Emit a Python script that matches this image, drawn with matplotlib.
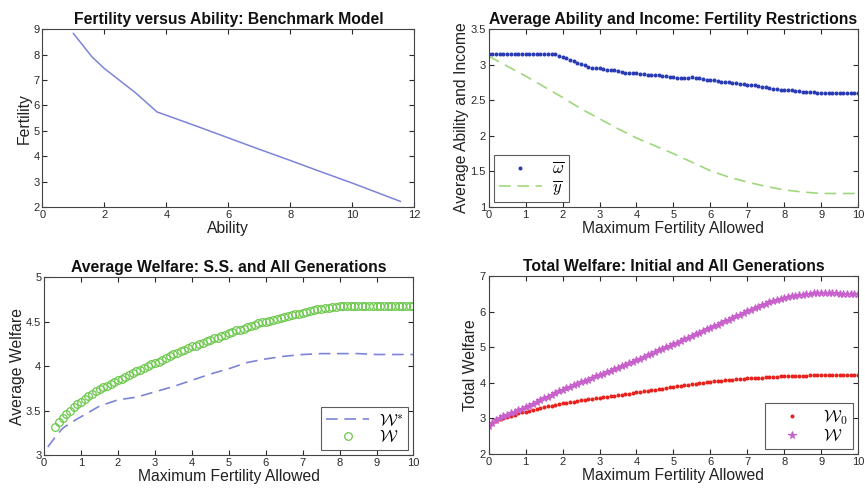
import numpy as np
import matplotlib.pyplot as plt
from matplotlib.ticker import FormatStrFormatter

plt.rcParams['font.family'] = ['Liberation Sans', 'DejaVu Sans']
plt.rcParams['mathtext.fontset'] = 'cm'

# --- panel 1: fertility vs ability (benchmark) ---
ability = [1.0, 1.6, 2.0, 3.0, 3.7, 4.0, 5.0, 6.0, 7.0, 8.0, 9.0, 10.0, 11.55]
fertility = [8.83, 7.91, 7.45, 6.50, 5.74, 5.61, 5.17, 4.72, 4.27, 3.83, 3.38, 2.94, 2.22]

# x grid of fertility caps (0, 0.1, ..., 10)
max_fert = np.round(np.arange(0, 101) * 0.1, 1)

# --- panel 2: average ability (dots) and income (dashed) ---
avg_ability = [
    3.15, 3.15, 3.15, 3.15, 3.15, 3.15, 3.15, 3.15, 3.15, 3.15,
    3.15, 3.15, 3.15, 3.15, 3.15, 3.15, 3.15, 3.15, 3.15, 3.12,
    3.11, 3.09, 3.07, 3.05, 3.03, 3.01, 2.99, 2.97, 2.96, 2.96,
    2.95, 2.94, 2.93, 2.92, 2.92, 2.91, 2.90, 2.89, 2.88, 2.88,
    2.88, 2.87, 2.87, 2.86, 2.86, 2.85, 2.85, 2.84, 2.84, 2.83,
    2.83, 2.82, 2.82, 2.81, 2.82, 2.83, 2.82, 2.81, 2.80, 2.79,
    2.78, 2.78, 2.77, 2.76, 2.76, 2.75, 2.74, 2.74, 2.73, 2.73,
    2.72, 2.72, 2.71, 2.70, 2.69, 2.68, 2.67, 2.66, 2.66, 2.65,
    2.65, 2.64, 2.64, 2.63, 2.63, 2.62, 2.62, 2.61, 2.61, 2.60,
    2.60, 2.60, 2.60, 2.60, 2.60, 2.60, 2.60, 2.60, 2.60, 2.60,
    2.60,
]
income_x = [0, 0.5, 1, 1.5, 2, 2.5, 3, 3.5, 4, 4.5, 5, 5.5, 6, 6.5, 7, 7.5, 8, 8.5, 9, 9.5, 10]
avg_income = [3.12, 2.98, 2.84, 2.69, 2.54, 2.38, 2.24, 2.10, 1.97, 1.86, 1.75,
              1.63, 1.51, 1.42, 1.35, 1.29, 1.24, 1.21, 1.19, 1.19, 1.19]

# --- panel 3: average welfare, steady state (dashed) and all generations (circles) ---
ss_x = [0.1, 0.3, 0.5, 0.75, 1, 1.5, 2, 2.5, 3, 3.5, 4, 4.5, 5, 5.5, 6, 6.5, 7, 7.5, 8, 8.5, 9, 9.5, 10]
ss_welfare = [3.09, 3.20, 3.30, 3.37, 3.43, 3.55, 3.62, 3.65, 3.71, 3.77, 3.84, 3.91,
              3.97, 4.04, 4.08, 4.11, 4.13, 4.14, 4.14, 4.14, 4.13, 4.13, 4.13]
allgen_avg = [
    3.32, 3.37, 3.42, 3.46, 3.50, 3.54, 3.57,
    3.60, 3.63, 3.66, 3.69, 3.72, 3.74, 3.76, 3.78, 3.80, 3.82,
    3.84, 3.86, 3.88, 3.90, 3.92, 3.94, 3.96, 3.98, 4.00, 4.02,
    4.03, 4.05, 4.07, 4.09, 4.11, 4.13, 4.15, 4.17, 4.18, 4.20,
    4.22, 4.23, 4.25, 4.26, 4.28, 4.29, 4.31, 4.32, 4.34, 4.35,
    4.37, 4.38, 4.40, 4.41, 4.42, 4.44, 4.45, 4.46, 4.48, 4.49,
    4.50, 4.51, 4.52, 4.53, 4.54, 4.55, 4.56, 4.57, 4.58, 4.59,
    4.60, 4.61, 4.62, 4.63, 4.64, 4.64, 4.65, 4.65, 4.66, 4.66,
    4.67, 4.67, 4.67, 4.68, 4.68, 4.68, 4.68, 4.68, 4.68, 4.68,
    4.68, 4.68, 4.68, 4.68, 4.68, 4.68, 4.68, 4.68, 4.68, 4.68,
    4.68,
]

# --- panel 4: total welfare, initial generation (dots) and all generations (stars) ---
initial_total = [
    2.80, 2.88, 2.94, 2.98, 3.02, 3.05, 3.08, 3.11, 3.14, 3.17,
    3.19, 3.22, 3.24, 3.27, 3.29, 3.31, 3.34, 3.36, 3.38, 3.40,
    3.42, 3.44, 3.46, 3.47, 3.49, 3.51, 3.52, 3.54, 3.55, 3.57,
    3.58, 3.60, 3.61, 3.63, 3.64, 3.66, 3.67, 3.69, 3.70, 3.72,
    3.73, 3.75, 3.76, 3.78, 3.79, 3.81, 3.82, 3.84, 3.85, 3.87,
    3.88, 3.90, 3.91, 3.93, 3.94, 3.96, 3.97, 3.99, 4.00, 4.01,
    4.03, 4.04, 4.05, 4.06, 4.07, 4.08, 4.09, 4.10, 4.11, 4.12,
    4.13, 4.14, 4.14, 4.15, 4.15, 4.16, 4.16, 4.17, 4.17, 4.18,
    4.18, 4.19, 4.19, 4.19, 4.20, 4.20, 4.20, 4.21, 4.21, 4.21,
    4.21, 4.21, 4.21, 4.21, 4.21, 4.21, 4.21, 4.21, 4.21, 4.21,
    4.21,
]
allgen_total = [
    2.78, 2.88, 2.96, 3.02, 3.07, 3.11, 3.15, 3.19, 3.23, 3.27,
    3.31, 3.36, 3.41, 3.46, 3.51, 3.56, 3.61, 3.66, 3.71, 3.76,
    3.81, 3.85, 3.89, 3.93, 3.97, 4.01, 4.05, 4.09, 4.13, 4.18,
    4.22, 4.26, 4.30, 4.34, 4.38, 4.42, 4.46, 4.50, 4.55, 4.59,
    4.64, 4.68, 4.73, 4.77, 4.82, 4.86, 4.91, 4.95, 5.00, 5.04,
    5.09, 5.13, 5.18, 5.22, 5.27, 5.31, 5.36, 5.40, 5.45, 5.50,
    5.55, 5.59, 5.64, 5.68, 5.73, 5.77, 5.82, 5.87, 5.92, 5.97,
    6.02, 6.06, 6.10, 6.14, 6.18, 6.22, 6.26, 6.29, 6.32, 6.35,
    6.38, 6.41, 6.43, 6.45, 6.47, 6.48, 6.50, 6.51, 6.52, 6.52,
    6.52, 6.52, 6.52, 6.52, 6.52, 6.51, 6.51, 6.51, 6.51, 6.51,
    6.50,
]

LIGHT_BLUE = "#7d84d8"
DARK_BLUE = "#2a3cb4"
LIGHT_GREEN = "#9fd87c"
GREEN = "#6cc84c"
RED = "#e8221c"
MAGENTA = "#c860cc"
INK = "#2a2a2a"

fig = plt.figure(figsize=(8.65, 4.94), dpi=100)
ax1 = fig.add_axes([0.049, 0.581, 0.430, 0.360])
ax2 = fig.add_axes([0.565, 0.581, 0.427, 0.360])
ax3 = fig.add_axes([0.051, 0.079, 0.427, 0.360])
ax4 = fig.add_axes([0.565, 0.081, 0.427, 0.360])

for ax in (ax1, ax2, ax3, ax4):
    ax.tick_params(direction="in", top=True, right=True, labelsize=8, length=3.5,
                   pad=2, colors=INK)
    ax.yaxis.set_major_formatter(FormatStrFormatter("%g"))
    for s in ax.spines.values():
        s.set_linewidth(0.8)
        s.set_color("#444444")

title_kw = dict(fontsize=11.3, fontweight="bold", pad=4, color="#111111")
label_kw = dict(fontsize=11.3, labelpad=1, color="#222222")
leg_kw = dict(fontsize=12, fancybox=False, edgecolor="#333333", handlelength=2.6,
              borderaxespad=0.3, labelspacing=0.1, borderpad=0.3, handletextpad=0.6)

# panel 1
ax1.plot(ability, fertility, color=LIGHT_BLUE, lw=1.1)
ax1.set_xlim(0, 12)
ax1.set_ylim(2, 9)
ax1.set_title("Fertility versus Ability: Benchmark Model", **title_kw)
ax1.set_xlabel("Ability", **label_kw)
ax1.set_ylabel("Fertility", **label_kw)

# panel 2
ax2.plot(max_fert, avg_ability, ".", color=DARK_BLUE, ms=3.8, label=r"$\overline{\omega}$")
ax2.plot(income_x, avg_income, "--", color=LIGHT_GREEN, lw=1.2, dashes=(7, 4),
         label=r"$\overline{y}$")
ax2.set_xlim(0, 10)
ax2.set_ylim(1, 3.5)
ax2.set_xticks(range(11))
ax2.set_yticks([1, 1.5, 2, 2.5, 3, 3.5])
ax2.set_title("Average Ability and Income: Fertility Restrictions", **title_kw)
ax2.set_xlabel("Maximum Fertility Allowed", **label_kw)
ax2.set_ylabel("Average Ability and Income", **label_kw)
leg = ax2.legend(loc="lower left", **leg_kw)
leg.get_frame().set_linewidth(0.8)

# panel 3
ax3.plot(ss_x, ss_welfare, "--", color=LIGHT_BLUE, lw=1.2, dashes=(7, 4),
         label=r"$\mathcal{W}^{*}$")
ax3.plot(max_fert[3:], allgen_avg, "o", color=GREEN, mfc="none", ms=5.5, mew=0.9,
         label=r"$\mathcal{W}$")
ax3.set_xlim(0, 10)
ax3.set_ylim(3, 5)
ax3.set_xticks(range(11))
ax3.set_yticks([3, 3.5, 4, 4.5, 5])
ax3.set_title("Average Welfare: S.S. and All Generations", **title_kw)
ax3.set_xlabel("Maximum Fertility Allowed", **label_kw)
ax3.set_ylabel("Average Welfare", **label_kw)
leg = ax3.legend(loc="lower right", **leg_kw)
leg.get_frame().set_linewidth(0.8)

# panel 4
ax4.plot(max_fert, initial_total, ".", color=RED, ms=3.8, label=r"$\mathcal{W}_0$")
ax4.plot(max_fert, allgen_total, "*", color=MAGENTA, ms=5.5, mew=0.8,
         label=r"$\mathcal{W}$")
ax4.set_xlim(0, 10)
ax4.set_ylim(2, 7)
ax4.set_xticks(range(11))
ax4.set_title("Total Welfare: Initial and All Generations", **title_kw)
ax4.set_xlabel("Maximum Fertility Allowed", **label_kw)
ax4.set_ylabel("Total Welfare", **label_kw)
leg = ax4.legend(loc="lower right", **leg_kw)
leg.get_frame().set_linewidth(0.8)

fig.savefig("out.png", dpi=100)
